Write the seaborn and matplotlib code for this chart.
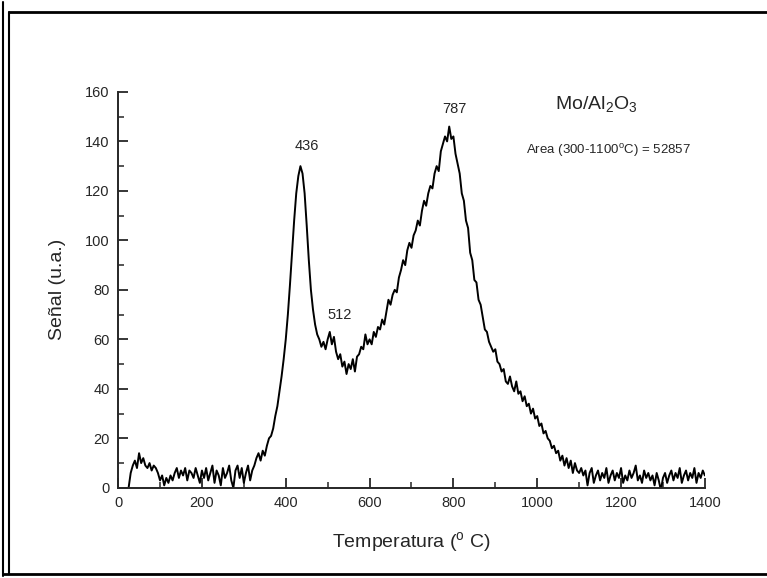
import numpy as np
import pandas as pd
import seaborn as sns
import matplotlib.pyplot as plt
from matplotlib.lines import Line2D
from matplotlib.ticker import MultipleLocator

# temperatura (C), paso de 5 grados
temperatura = np.arange(25, 1401, 5)

senal = [
    0, 6, 9, 11, 8, 14, 10, 12, 9, 8, 10, 7, 9, 8, 6,            # 25-95
    3, 5, 1, 4, 2, 5, 3, 6, 8, 4, 7, 5, 8, 3, 7, 6, 4, 8, 5, 2,  # 100-195
    7, 4, 8, 3, 6, 9, 2, 7, 5, 1, 8, 4, 6, 9, 3, 0, 7, 9, 4, 8,  # 200-295
    2, 6, 9, 3, 7, 9, 12, 14, 11, 15, 13, 17, 20, 21, 24, 29, 33, 39, 45, 52,  # 300-395
    60, 70, 82, 95, 108, 119, 126, 130, 127, 119, 106, 92, 80, 72, 66, 62, 60, 57, 59, 56,  # 400-495
    60, 63, 58, 61, 55, 52, 54, 49, 51, 46, 50, 48, 52, 47, 53, 54, 57, 56, 62, 58,  # 500-595
    60, 58, 63, 61, 65, 64, 68, 66, 71, 76, 74, 78, 80, 79, 85, 88, 92, 90, 96, 99,  # 600-695
    97, 102, 104, 108, 106, 112, 116, 114, 119, 122, 121, 127, 130, 128, 136, 139, 142, 140, 146, 141,  # 700-795
    142, 135, 131, 127, 119, 116, 108, 105, 95, 92, 84, 83, 76, 74, 69, 64, 63, 59, 57, 55,  # 800-895
    56, 51, 50, 47, 48, 43, 42, 45, 41, 39, 43, 38, 39, 35, 37, 33, 34, 30, 32, 28,  # 900-995
    29, 25, 26, 22, 23, 20, 19, 16, 17, 14, 15, 11, 13, 9, 12, 8, 11, 6, 10, 7,  # 1000-1095
    6, 8, 5, 7, 1, 6, 8, 2, 5, 7, 3, 6, 4, 8, 2, 5, 7, 3, 6, 4,  # 1100-1195
    8, 2, 5, 3, 7, 4, 6, 9, 3, 5, 2, 7, 4, 6, 3, 5, 1, 6, 3, -1,  # 1200-1295
    4, 6, 2, 5, 7, 3, 6, 4, 8, 2, 5, 7, 3, 6, 4, 8, 2, 6, 4, 7,  # 1300-1395
    5,                                                           # 1400
]

datos = pd.DataFrame({"T": temperatura, "S": senal})

sns.set_style("ticks")
plt.rcParams["font.family"] = ["Liberation Sans", "DejaVu Sans"]
plt.rcParams["mathtext.fontset"] = "custom"
plt.rcParams["mathtext.rm"] = "Liberation Sans"
plt.rcParams["mathtext.it"] = "Liberation Sans"

fig = plt.figure(figsize=(7.67, 5.78), dpi=100)
ax = fig.add_axes([0.154, 0.156, 0.765, 0.685])

sns.lineplot(data=datos, x="T", y="S", color="black", linewidth=1.4, ax=ax)

ax.set_xlim(0, 1400)
ax.set_ylim(0, 160)
ax.xaxis.set_major_locator(MultipleLocator(200))
ax.xaxis.set_minor_locator(MultipleLocator(100))
ax.yaxis.set_major_locator(MultipleLocator(20))
ax.yaxis.set_minor_locator(MultipleLocator(10))
ax.tick_params(which="major", direction="in", length=7, width=1.3, labelsize=10.5, pad=6)
ax.tick_params(which="minor", direction="in", length=4, width=1.1)
sns.despine(ax=ax)
for s in ["left", "bottom"]:
    ax.spines[s].set_linewidth(1.4)

ax.set_xlabel("Temperatura ($^{o}$ C)", fontsize=14, labelpad=14)
ax.set_ylabel("Señal (u.a.)", fontsize=14, labelpad=14)

ax.text(450, 138, "436", fontsize=10.5, ha="center", va="center")
ax.text(529, 70, "512", fontsize=10.5, ha="center", va="center")
ax.text(802, 153, "787", fontsize=10.5, ha="center", va="center")
ax.text(1140, 155, "Mo/Al$_2$O$_3$", fontsize=14, ha="center", va="center")
ax.text(974, 136.5, "Area (300-1100$^{o}$C) = 52857", fontsize=9.5, ha="left", va="center")

# marco exterior de la figura
W, H = 767, 578
marcos = [
    ([3 / W, 3 / W], [1 - 2 / H, 1 - 576 / H], 1.5),
    ([9 / W, 9 / W], [1 - 12 / H, 1 - 574 / H], 1.5),
    ([9 / W, 1.0], [1 - 12 / H, 1 - 12 / H], 2.0),
    ([3 / W, 1.0], [1 - 574 / H, 1 - 574 / H], 2.0),
]
for xs, ys, lw in marcos:
    fig.add_artist(Line2D(xs, ys, transform=fig.transFigure, color="black", linewidth=lw))

fig.savefig("out.png", dpi=100)
